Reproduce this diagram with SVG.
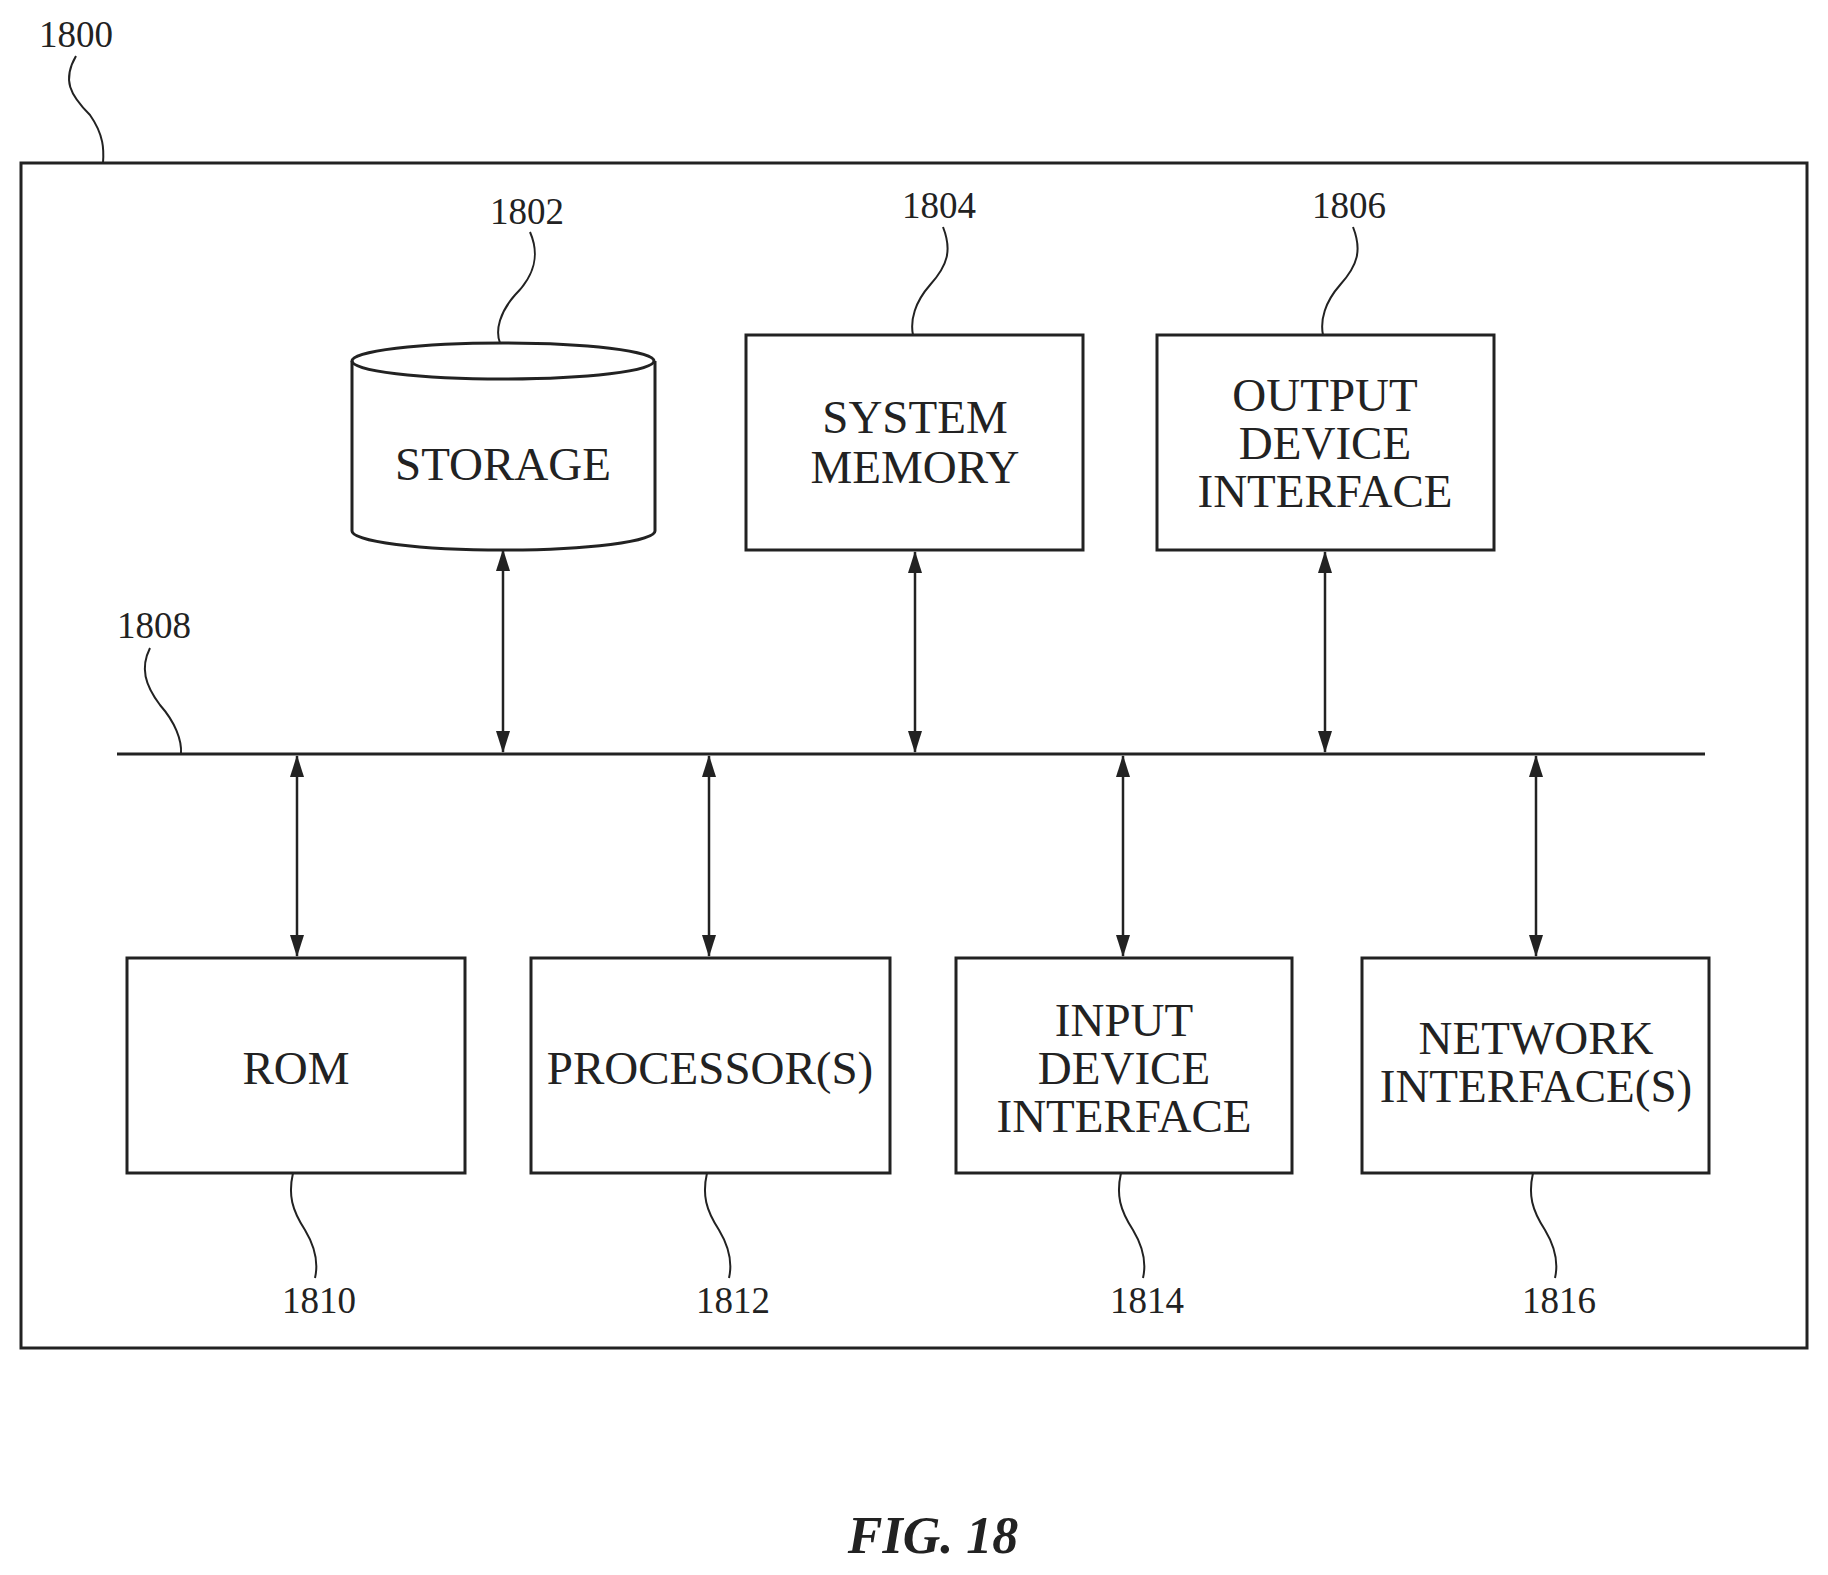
<svg xmlns="http://www.w3.org/2000/svg" width="1828" height="1575" viewBox="0 0 1828 1575">
<style>
.b{fill:none;stroke:#222;stroke-width:3}
.l{fill:none;stroke:#222;stroke-width:2}
.c{stroke:#222;stroke-width:2.5;fill:none}
text{font-family:"Liberation Serif",serif;fill:#222}
.t{font-size:47px;text-anchor:middle}
.n{font-size:37px;text-anchor:middle}
</style>
<defs>
<marker id="a" viewBox="0 0 22 16" refX="21" refY="8" markerWidth="22" markerHeight="16" markerUnits="userSpaceOnUse" orient="auto-start-reverse"><path d="M0,1 L22,8 L0,15 Z" fill="#222"/></marker>
</defs>
<rect fill="#fff" width="1828" height="1575"/>
<g id="n1800"><rect class="b" x="21" y="163" width="1786" height="1185"/><text class="n" x="76" y="47">1800</text><path class="l" d="M76,56 C62,80 70,95 90,115 C104,135 104,150 103,163"/></g>
<g id="n1802"><path class="b" d="M352,361 L352,531 A151,19 0 0 0 655,531 L655,361"/><ellipse class="b" cx="503" cy="361" rx="151" ry="18"/><text class="t" x="503" y="480">STORAGE</text><text class="n" x="527" y="224">1802</text><path class="l" d="M530,232 C540,255 535,275 515,295 C500,312 495,330 500,343"/></g>
<g id="n1804"><rect class="b" x="746" y="335" width="337" height="215"/><text class="t" x="915" y="433">SYSTEM</text><text class="t" x="915" y="483">MEMORY</text><text class="n" x="939" y="218">1804</text><path class="l" d="M943,227 C952,250 948,265 930,285 C915,302 910,320 913,335"/></g>
<g id="n1806"><rect class="b" x="1157" y="335" width="337" height="215"/><text class="t" x="1325" y="411">OUTPUT</text><text class="t" x="1325" y="459">DEVICE</text><text class="t" x="1325" y="507">INTERFACE</text><text class="n" x="1349" y="218">1806</text><path class="l" d="M1353,227 C1362,250 1358,265 1340,285 C1325,302 1320,320 1323,335"/></g>
<g id="n1808"><line class="b" x1="117" y1="754" x2="1705" y2="754"/><text class="n" x="154" y="638">1808</text><path class="l" d="M150,648 C140,668 145,685 160,705 C175,722 182,740 181,754"/></g>
<g id="n1810"><rect class="b" x="127" y="958" width="338" height="215"/><text class="t" x="296" y="1084">ROM</text><text class="n" x="319" y="1313">1810</text><path class="l" d="M293,1173 C288,1195 292,1210 305,1230 C317,1250 318,1265 315,1278"/></g>
<g id="n1812"><rect class="b" x="531" y="958" width="359" height="215"/><text class="t" x="710" y="1084">PROCESSOR(S)</text><text class="n" x="733" y="1313">1812</text><path class="l" d="M707,1173 C702,1195 706,1210 719,1230 C731,1250 732,1265 729,1278"/></g>
<g id="n1814"><rect class="b" x="956" y="958" width="336" height="215"/><text class="t" x="1124" y="1036">INPUT</text><text class="t" x="1124" y="1084">DEVICE</text><text class="t" x="1124" y="1132">INTERFACE</text><text class="n" x="1147" y="1313">1814</text><path class="l" d="M1121,1173 C1116,1195 1120,1210 1133,1230 C1145,1250 1146,1265 1143,1278"/></g>
<g id="n1816"><rect class="b" x="1362" y="958" width="347" height="215"/><text class="t" x="1536" y="1054">NETWORK</text><text class="t" x="1536" y="1102">INTERFACE(S)</text><text class="n" x="1559" y="1313">1816</text><path class="l" d="M1533,1173 C1528,1195 1532,1210 1545,1230 C1557,1250 1558,1265 1555,1278"/></g>
<g id="connectors">
<line class="c" x1="503" y1="550" x2="503" y2="752" marker-start="url(#a)" marker-end="url(#a)"/>
<line class="c" x1="915" y1="552" x2="915" y2="752" marker-start="url(#a)" marker-end="url(#a)"/>
<line class="c" x1="1325" y1="552" x2="1325" y2="752" marker-start="url(#a)" marker-end="url(#a)"/>
<line class="c" x1="297" y1="756" x2="297" y2="956" marker-start="url(#a)" marker-end="url(#a)"/>
<line class="c" x1="709" y1="756" x2="709" y2="956" marker-start="url(#a)" marker-end="url(#a)"/>
<line class="c" x1="1123" y1="756" x2="1123" y2="956" marker-start="url(#a)" marker-end="url(#a)"/>
<line class="c" x1="1536" y1="756" x2="1536" y2="956" marker-start="url(#a)" marker-end="url(#a)"/>
</g>
<text x="933" y="1553" style="font-size:52px;font-weight:bold;font-style:italic;text-anchor:middle">FIG. 18</text>
</svg>
